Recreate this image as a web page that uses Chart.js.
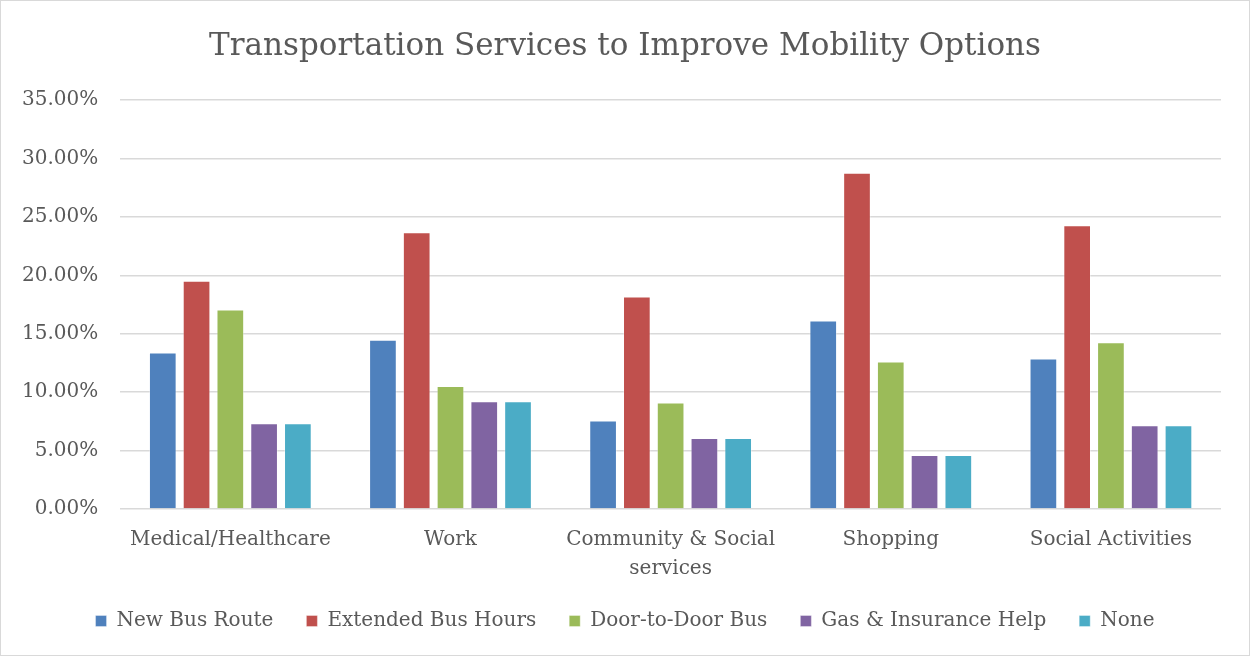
<!DOCTYPE html>
<html>
<head>
<meta charset="utf-8">
<script src="https://cdn.jsdelivr.net/npm/chart.js@4.4.1/dist/chart.umd.min.js"></script>
<style>
html,body{margin:0;padding:0;background:#fff;}
#wrap{width:1250px;height:656px;position:relative;}
</style>
</head>
<body>
<div id="wrap"><canvas id="c" width="1250" height="656"></canvas></div>
<script>
const categories = ["Medical/Healthcare", "Work", ["Community & Social", "services"], "Shopping", "Social Activities"];
const newBusRoute = [13.39, 14.50, 7.57, 16.13, 12.88];
const extendedBusHours = [19.54, 23.70, 18.19, 28.79, 24.30];
const doorToDoorBus = [17.08, 10.54, 9.11, 12.62, 14.28];
const gasInsuranceHelp = [7.34, 9.22, 6.08, 4.63, 7.16];
const noneValues = [7.34, 9.22, 6.08, 4.63, 7.16];
const seriesNames = ["New Bus Route", "Extended Bus Hours", "Door-to-Door Bus", "Gas & Insurance Help", "None"];
const seriesColors = ["#4F81BD", "#C0504D", "#9BBB59", "#8064A2", "#4BACC6"];
const titleText = "Transportation Services to Improve Mobility Options";

const FONT = "'DejaVu Serif', serif";
const TXT = "#595959";

const seriesData = [newBusRoute, extendedBusHours, doorToDoorBus, gasInsuranceHelp, noneValues];

const borderPlugin = {
  id: 'outerBorder',
  afterDraw(chart) {
    const ctx = chart.ctx;
    ctx.save();
    ctx.strokeStyle = '#D9D9D9';
    ctx.lineWidth = 1;
    ctx.strokeRect(0.5, 0.5, chart.width - 1, chart.height - 1);
    ctx.restore();
  }
};

new Chart(document.getElementById('c'), {
  type: 'bar',
  data: {
    labels: categories,
    datasets: seriesData.map((d, i) => ({
      label: seriesNames[i],
      data: d,
      backgroundColor: seriesColors[i],
      borderColor: 'rgba(255,255,255,0.35)',
      borderWidth: 1,
      categoryPercentage: 0.767,
      barPercentage: 0.82
    }))
  },
  options: {
    responsive: false,
    animation: false,
    devicePixelRatio: 1,
    layout: { padding: { left: 0, right: 0, top: 12, bottom: 15 } },
    plugins: {
      title: {
        display: true,
        text: titleText,
        color: TXT,
        font: { family: FONT, size: 31, weight: 'normal' },
        padding: { top: 16, bottom: 35 }
      },
      legend: {
        position: 'bottom',
        labels: {
          color: TXT,
          font: { family: FONT, size: 20 },
          boxWidth: 11,
          boxHeight: 11,
          padding: 33
        }
      },
      tooltip: { enabled: false }
    },
    scales: {
      x: {
        grid: { display: false },
        border: { display: false },
        afterFit(scale) { scale.height = 69; },
        ticks: {
          color: TXT,
          font: { family: FONT, size: 20, lineHeight: 1.45 },
          padding: 8,
          maxRotation: 0,
          autoSkip: false
        }
      },
      y: {
        min: 0,
        max: 35,
        grid: { color: '#D9D9D9', lineWidth: 1.5, drawTicks: false },
        border: { display: false },
        ticks: {
          stepSize: 5,
          color: TXT,
          font: { family: FONT, size: 20 },
          padding: 22,
          callback: v => v.toFixed(2) + '%'
        }
      },
      yRight: {
        position: 'right',
        display: true,
        grid: { display: false, drawTicks: false },
        border: { display: false },
        ticks: { display: false },
        afterFit(scale) { scale.width = 29; }
      }
    }
  },
  plugins: [borderPlugin]
});
</script>
</body>
</html>
